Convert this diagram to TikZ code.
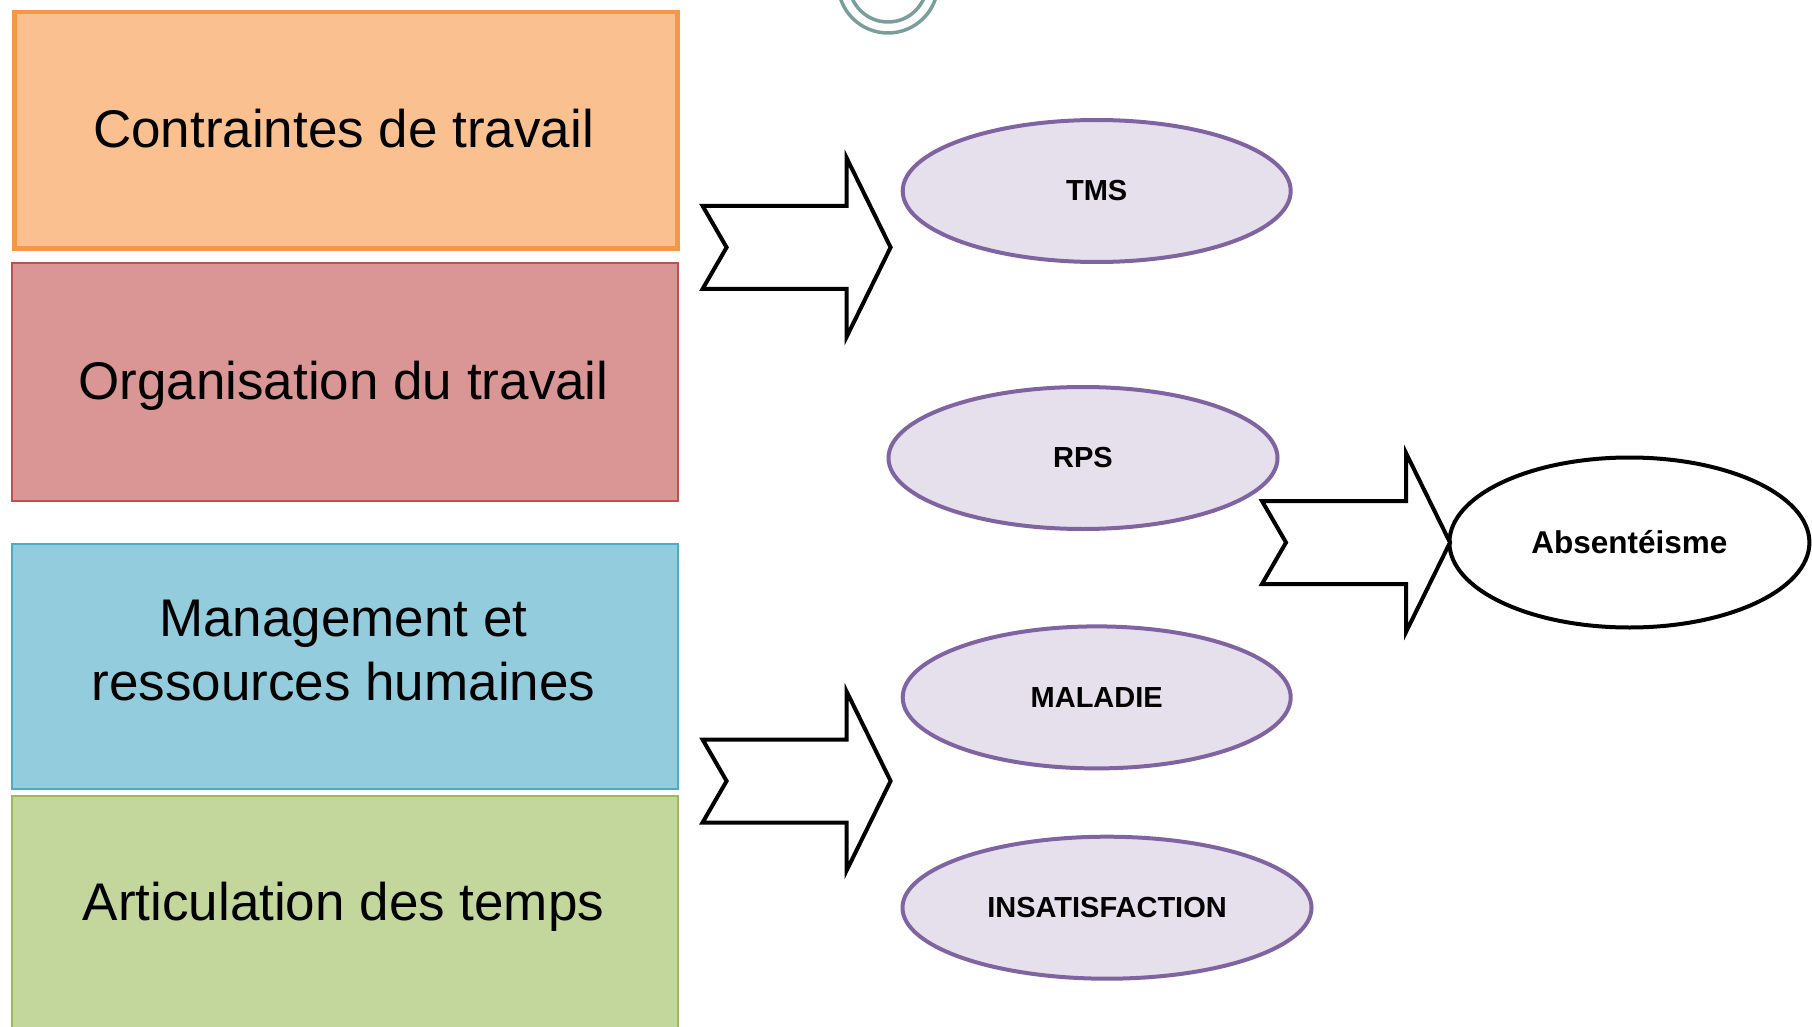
\documentclass[tikz,border=0pt]{standalone}
\usepackage{fontspec}
\setmainfont{Liberation Sans}
\usetikzlibrary{shapes.geometric}
\definecolor{orfill}{HTML}{FAC090}
\definecolor{ordraw}{HTML}{F79646}
\definecolor{rdfill}{HTML}{D99694}
\definecolor{rddraw}{HTML}{C0504D}
\definecolor{blfill}{HTML}{93CDDD}
\definecolor{bldraw}{HTML}{4BACC6}
\definecolor{grfill}{HTML}{C3D69B}
\definecolor{grdraw}{HTML}{9BBB59}
\definecolor{pufill}{HTML}{E5E0EC}
\definecolor{pudraw}{HTML}{8064A2}
\definecolor{ringcol}{HTML}{7A9E9B}
\begin{document}
\begin{tikzpicture}[x=1pt,y=-1pt,
  box/.style={rectangle, anchor=north west, inner sep=0pt, line width=2pt},
  boxtext/.style={font=\fontsize{53}{64}\selectfont, align=center, inner sep=0pt},
  oval/.style={ellipse, draw=pudraw, fill=pufill, line width=4pt, inner sep=0pt,
     font=\bfseries\fontsize{29}{35}\selectfont},
  arrowline/.style={draw=black, fill=white, line width=4pt, line join=miter},
  ring/.style={draw=ringcol, line width=3.5pt},
  pics/blockarrow/.style={code={
    \path[arrowline] (0,-41.5) -- (144,-41.5) -- (144,-89.5) -- (188,0)
      -- (144,89.5) -- (144,41.5) -- (0,41.5) -- (24,0) -- cycle;}}
]
\useasboundingbox (0,0) rectangle (1812,1027);

% decorative rings at top
\draw[ring] (888,-17) circle (50);
\draw[ring] (888,-17) circle (39);

% left boxes
\node[box, draw=ordraw, fill=orfill, line width=4.5pt, minimum width=663pt, minimum height=236pt] (b1) at (12,10) {};
\node[box, draw=rddraw, fill=rdfill, minimum width=666pt, minimum height=238pt] (b2) at (10.5,262) {};
\node[box, draw=bldraw, fill=blfill, minimum width=666pt, minimum height=245pt] (b3) at (10.5,543) {};
\node[box, draw=grdraw, fill=grfill, minimum width=666pt, minimum height=260pt] (b4) at (10.5,795) {};

\node[boxtext] (t1) at (343.5,129) {Contraintes de travail};
\node[boxtext] (t2) at (343.5,386) {Organisation du travail};
\node[boxtext] (t3) at (343.5,651) {Management et\\ressources humaines};
\node[boxtext] (t4) at (343.5,907) {Articulation des temps};

% ellipses
\node[oval, minimum width=388pt, minimum height=142pt] (tms) at (1096.7,191) {TMS};
\node[oval, minimum width=389pt, minimum height=142pt] (rps) at (1083,458) {RPS};
\node[oval, minimum width=388pt, minimum height=142pt] (mal) at (1096.7,697.4) {MALADIE};
\node[oval, minimum width=409pt, minimum height=142pt] (ins) at (1107,907.7) {INSATISFACTION};
\node[ellipse, draw=black, fill=white, line width=4pt, inner sep=0pt,
      font=\bfseries\fontsize{31.5}{38}\selectfont,
      minimum width=360pt, minimum height=170pt] (abs) at (1629.4,542.5) {Absentéisme};

% block arrows
\pic at (702.6,247.4) {blockarrow};
\pic at (702.6,781) {blockarrow};
\pic at (1262,542.5) {blockarrow};
\end{tikzpicture}
\end{document}
